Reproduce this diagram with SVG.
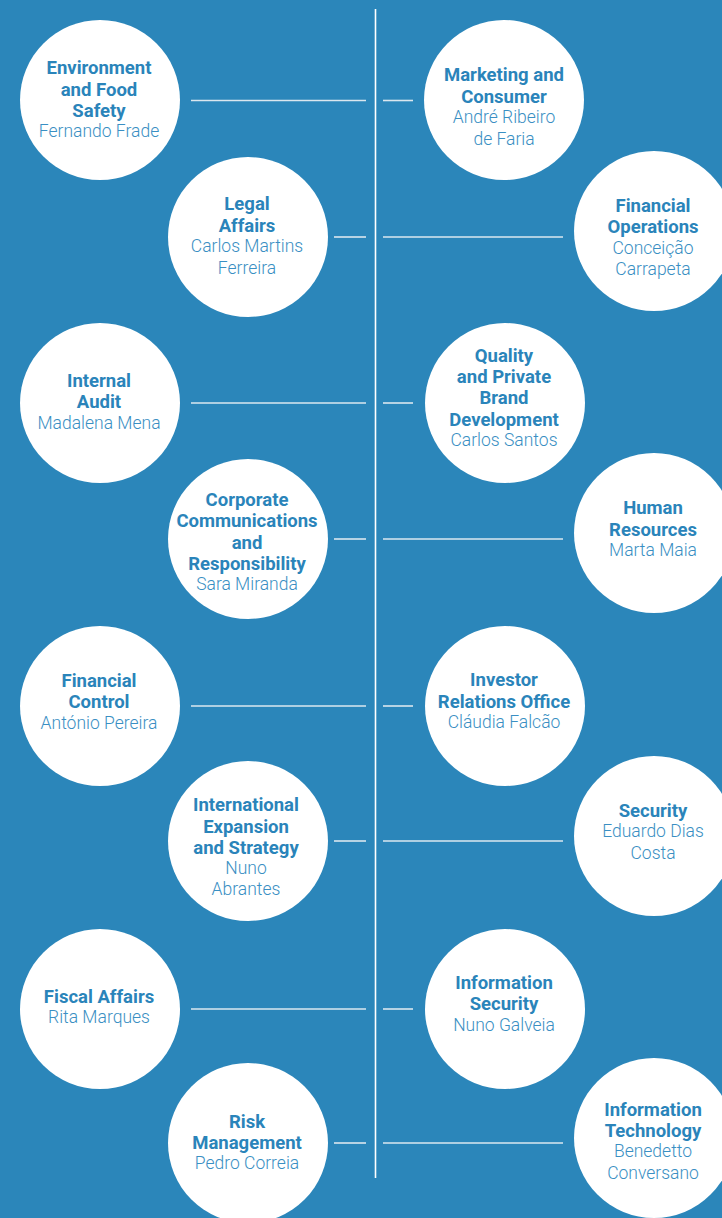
<svg xmlns="http://www.w3.org/2000/svg" width="722" height="1218" viewBox="0 0 722 1218">
<style>
.c{fill:#ffffff}
.t{font-family:Roboto,"Liberation Sans",sans-serif;font-size:18.5px;font-weight:bold;fill:#2a84ba;text-anchor:middle}
.n{font-family:Roboto,"Liberation Sans",sans-serif;font-size:17.5px;font-weight:300;fill:#3a8fc3;text-anchor:middle}
.l{stroke:#dbe7ef;stroke-width:1.6;fill:none}
.v{stroke:#ffffff;stroke-width:1.6;fill:none}
</style>
<rect width="722" height="1218" fill="#2b86ba"/>
<g id="connectors">
<line class="v" x1="375.5" y1="9" x2="375.5" y2="1178"/>
<line class="l" x1="191" y1="100.5" x2="366" y2="100.5"/><line class="l" x1="383" y1="100.5" x2="413" y2="100.5"/>
<line class="l" x1="191" y1="403" x2="366" y2="403"/><line class="l" x1="383" y1="403" x2="413" y2="403"/>
<line class="l" x1="191" y1="706" x2="366" y2="706"/><line class="l" x1="383" y1="706" x2="413" y2="706"/>
<line class="l" x1="191" y1="1009" x2="366" y2="1009"/><line class="l" x1="383" y1="1009" x2="413" y2="1009"/>
<line class="l" x1="334" y1="237" x2="366" y2="237"/><line class="l" x1="383" y1="237" x2="563" y2="237"/>
<line class="l" x1="334" y1="539" x2="366" y2="539"/><line class="l" x1="383" y1="539" x2="563" y2="539"/>
<line class="l" x1="334" y1="841" x2="366" y2="841"/><line class="l" x1="383" y1="841" x2="563" y2="841"/>
<line class="l" x1="334" y1="1143" x2="366" y2="1143"/><line class="l" x1="383" y1="1143" x2="563" y2="1143"/>
</g>
<g id="env"><circle class="c" cx="100" cy="100" r="80"/>
<text class="t" x="99" y="73.5">Environment</text><text class="t" x="99" y="95.5">and Food</text><text class="t" x="99" y="116.5">Safety</text><text class="n" x="99" y="137">Fernando Frade</text></g>
<g id="marketing"><circle class="c" cx="504" cy="100" r="80"/>
<text class="t" x="504" y="80.5">Marketing and</text><text class="t" x="504" y="102.5">Consumer</text><text class="n" x="504" y="123">André Ribeiro</text><text class="n" x="504" y="145">de Faria</text></g>
<g id="legal"><circle class="c" cx="248" cy="237" r="80"/>
<text class="t" x="247" y="209.5">Legal</text><text class="t" x="247" y="231.5">Affairs</text><text class="n" x="247" y="252">Carlos Martins</text><text class="n" x="247" y="274">Ferreira</text></g>
<g id="finops"><circle class="c" cx="654" cy="231" r="80"/>
<text class="t" x="653" y="211.5">Financial</text><text class="t" x="653" y="232.5">Operations</text><text class="n" x="653" y="254">Conceição</text><text class="n" x="653" y="275">Carrapeta</text></g>
<g id="audit"><circle class="c" cx="100" cy="403" r="80"/>
<text class="t" x="99" y="386.5">Internal</text><text class="t" x="99" y="407.5">Audit</text><text class="n" x="99" y="429">Madalena Mena</text></g>
<g id="quality"><circle class="c" cx="505" cy="403" r="80"/>
<text class="t" x="504" y="361.5">Quality</text><text class="t" x="504" y="382.5">and Private</text><text class="t" x="504" y="403.5">Brand</text><text class="t" x="504" y="425.5">Development</text><text class="n" x="504" y="446">Carlos Santos</text></g>
<g id="corp"><circle class="c" cx="248" cy="539" r="80"/>
<text class="t" x="247" y="505.5">Corporate</text><text class="t" x="247" y="526.5">Communications</text><text class="t" x="247" y="548.5">and</text><text class="t" x="247" y="569.5">Responsibility</text><text class="n" x="247" y="590">Sara Miranda</text></g>
<g id="hr"><circle class="c" cx="654" cy="533" r="80"/>
<text class="t" x="653" y="513.5">Human</text><text class="t" x="653" y="535.5">Resources</text><text class="n" x="653" y="556">Marta Maia</text></g>
<g id="fincontrol"><circle class="c" cx="100" cy="706" r="80"/>
<text class="t" x="99" y="686.5">Financial</text><text class="t" x="99" y="707.5">Control</text><text class="n" x="99" y="729">António Pereira</text></g>
<g id="investor"><circle class="c" cx="505" cy="706" r="80"/>
<text class="t" x="504" y="685.5">Investor</text><text class="t" x="504" y="707.5">Relations Office</text><text class="n" x="504" y="728">Cláudia Falcão</text></g>
<g id="intl"><circle class="c" cx="248" cy="841" r="80"/>
<text class="t" x="246" y="810.5">International</text><text class="t" x="246" y="832.5">Expansion</text><text class="t" x="246" y="853.5">and Strategy</text><text class="n" x="246" y="874">Nuno</text><text class="n" x="246" y="895">Abrantes</text></g>
<g id="security"><circle class="c" cx="654" cy="836" r="80"/>
<text class="t" x="653" y="816.5">Security</text><text class="n" x="653" y="837">Eduardo Dias</text><text class="n" x="653" y="859">Costa</text></g>
<g id="fiscal"><circle class="c" cx="100" cy="1009" r="80"/>
<text class="t" x="99" y="1002.5">Fiscal Affairs</text><text class="n" x="99" y="1023">Rita Marques</text></g>
<g id="infosec"><circle class="c" cx="505" cy="1009" r="80"/>
<text class="t" x="504" y="988.5">Information</text><text class="t" x="504" y="1009.5">Security</text><text class="n" x="504" y="1031">Nuno Galveia</text></g>
<g id="risk"><circle class="c" cx="248" cy="1143" r="80"/>
<text class="t" x="247" y="1127.5">Risk</text><text class="t" x="247" y="1148.5">Management</text><text class="n" x="247" y="1169">Pedro Correia</text></g>
<g id="it"><circle class="c" cx="654" cy="1138" r="80"/>
<text class="t" x="653" y="1115.5">Information</text><text class="t" x="653" y="1136.5">Technology</text><text class="n" x="653" y="1157">Benedetto</text><text class="n" x="653" y="1179">Conversano</text></g>
</svg>
